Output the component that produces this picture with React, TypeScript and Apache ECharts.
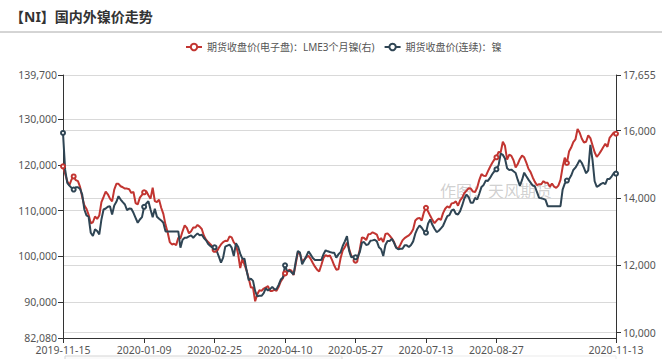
import React, { useEffect, useRef } from 'react';
import * as echarts from 'echarts';

const TITLE = '【NI】国内外镍价走势';
const LEGEND_LME = '期货收盘价(电子盘)：LME3个月镍(右)';
const LEGEND_SHFE = '期货收盘价(连续)：镍';
const WATERMARK = '作图：天风期货';

const FIRST_DATE = '2019-11-15';
const LAST_DATE = '2020-11-13';
const CLOSED_DATES = ['2020-01-01'];
const LABEL_DATES = [
  '2019-11-15', '2019-11-22', '2020-01-09', '2020-02-25', '2020-04-10',
  '2020-05-27', '2020-07-13', '2020-08-27', '2020-10-13', '2020-11-13',
];

const LEFT_MIN = 82080;
const LEFT_MAX = 139700;
const RIGHT_MIN = 9840;
const RIGHT_MAX = 17655;

const SHFE_NI = [
  127000, 118960, 116050, 115470, 114960, 114600, 115110, 115110, 114750, 113510,
  110240, 108930, 108640, 105140, 104420, 105870, 105510, 104780, 108050, 110240,
  110450, 110820, 110960, 109140, 111110, 111910, 113150, 112420, 111840, 111330,
  110090, 110450, 110380, 109510, 108420, 107330, 108050, 108560, 110820, 111550,
  112050, 110240, 108560, 110380, 108640, 108200, 107840, 107330, 105440, 105440,
  105440, 105440, 105440, 105440, 105440, 101870, 103620, 104050, 104050, 104340,
  104560, 104050, 104560, 105000, 104560, 104710, 103980, 103470, 102670, 102230,
  101870, 101940, 101140, 99910, 98600, 99690, 102090, 102310, 102520, 101870,
  100050, 102820, 102090, 100560, 99470, 99470, 96850, 94740, 95100, 94590,
  92340, 91200, 91320, 91320, 91900, 92990, 92480, 92780, 93280, 92780,
  92780, 93720, 94890, 95320, 98010, 96700, 96850, 96490, 95980, 98810,
  101140, 100780, 98230, 99100, 100050, 101070, 100340, 99610, 99180, 99180,
  99180, 99180, 100410, 101290, 101070, 100920, 100780, 100780, 99690, 100410,
  100850, 102230, 103250, 104420, 101220, 99760, 99910, 99760, 99830, 100920,
  102960, 103110, 102450, 102600, 103400, 103470, 103620, 103250, 101940, 101510,
  100050, 102450, 103320, 103320, 103800, 103000, 101870, 101510, 101650, 101650,
  102380, 102380, 102020, 102450, 103250, 104930, 106020, 106740, 106240, 105510,
  105140, 107180, 108050, 106890, 106020, 105290, 105580, 106090, 106670, 107760,
  108780, 109000, 110020, 110240, 109290, 109140, 109870, 111180, 112710, 113510,
  112930, 111690, 111690, 112780, 112420, 113730, 115180, 115620, 116570, 116490,
  117150, 117950, 118600, 119040, 119910, 122500, 122200, 121400, 119260, 118890,
  118970, 118600, 118240, 116710, 115400, 116710, 118310, 117510, 116780, 116130,
  115470, 115330, 114020, 112780, 112710, 112560, 112350, 110960, 110960, 110960,
  110960, 110960, 110960, 110960, 114600, 115910, 116570, 116860, 117660, 118890,
  119400, 120200, 121080, 120420, 119330, 118170, 118820, 124400, 121100, 116420,
  115180, 115470, 115840, 116060, 115770, 116930, 116930, 117510, 118240, 118090,
];

const LME_3M = [
  14940, 14720, 14500, 14380, 14550, 14640, 14530, 14500, 14330, 14030,
  13780, 13680, 13500, 13250, 13280, 13450, 13380, 13480, 13880, 14030,
  14190, 14110, 13980, 13900, 14250, 14420, 14420, 14350, 14320, 14280,
  14280, 14260, 14150, 14180, 13850, 13810, 14010, 14090, 14170, 14200,
  14080, 13980, 14310, 13910, 13880, 13950, 13710, 13530, 13210, 12980,
  12690, 12620, 12640, 12600, 12820, 12800, 13010, 13190, 13110, 12950,
  13010, 13120, 13120, 13200, 13150, 13080, 12880, 12760, 12690, 12630,
  12560, 12460, 12400, 12520, 12620, 12690, 12730, 12720, 12860, 12830,
  12680, 12610, 12340, 11920, 12190, 12020, 11840, 11610, 11340, 11340,
  10930, 11140, 11260, 11240, 11310, 11340, 11380, 11240, 11240, 11270,
  11240, 11360, 11520, 11620, 11760, 11790, 11870, 11840, 11710, 12040,
  12390, 12340, 12110, 12170, 12240, 12280, 12190, 12070, 11960, 11870,
  11820, 12010, 12220, 12300, 12270, 12290, 12160, 12000, 11870, 11880,
  12210, 12440, 12540, 12670, 12490, 12280, 12240, 12140, 12190, 12470,
  12830, 12810, 12750, 12920, 12930, 12980, 12950, 12910, 12740, 12810,
  12690, 12930, 12950, 12880, 12800, 12700, 12540, 12490, 12610, 12740,
  12810, 12850, 12890, 12960, 13070, 13330, 13390, 13410, 13330, 13570,
  13710, 13600, 13470, 13350, 13250, 13330, 13390, 13350, 13550, 13680,
  13750, 13710, 13840, 13850, 13900, 13770, 13930, 14010, 14150, 14220,
  14290, 14280, 14190, 14180, 14310, 14540, 14710, 14660, 14650, 14790,
  14920, 15040, 15140, 15210, 15370, 15360, 15670, 15550, 15140, 15290,
  15250, 15120, 14910, 15010, 15160, 15260, 15210, 15050, 14870, 14770,
  14610, 14480, 14380, 14410, 14410, 14500, 14450, 14450, 14330, 14430,
  14340, 14300, 14370, 14540, 14920, 15200, 15040, 15380, 15500, 15660,
  15740, 16050, 15940, 15760, 15650, 15670, 15860, 15780, 15570, 15360,
  15220, 15300, 15400, 15510, 15610, 15520, 15790, 15870, 15950, 15910,
];

function buildDates(): string[] {
  const out: string[] = [];
  const d = new Date(FIRST_DATE + 'T00:00:00Z');
  const end = new Date(LAST_DATE + 'T00:00:00Z');
  while (d.getTime() <= end.getTime()) {
    const wd = d.getUTCDay();
    const s = d.toISOString().slice(0, 10);
    if (wd !== 0 && wd !== 6 && !CLOSED_DATES.includes(s)) out.push(s);
    d.setUTCDate(d.getUTCDate() + 1);
  }
  return out;
}

const FONT = "'Noto Sans', 'Noto Sans CJK SC', sans-serif";
const RED = '#c23531';
const DARK = '#2f4554';

export default function App() {
  const ref = useRef<HTMLDivElement>(null);

  useEffect(() => {
    if (!ref.current) return;
    const chart = echarts.init(ref.current, undefined, { renderer: 'svg' });
    const dates = buildDates();
    const axisColor = '#333';
    const labelColor = '#555';
    const splitColor = '#d9d9d9';

    chart.setOption({
      animation: false,
      textStyle: { fontFamily: FONT },
      title: {
        text: TITLE,
        left: 5,
        top: 4,
        textStyle: { fontSize: 14, fontWeight: 'bold', color: '#333', fontFamily: FONT },
      },
      legend: {
        left: 180,
        top: 37,
        itemWidth: 16,
        itemHeight: 8,
        itemGap: 9,
        textStyle: { fontSize: 10, color: '#555', fontFamily: FONT },
        data: [LEGEND_LME, LEGEND_SHFE],
      },
      grid: {
        left: 63,
        right: 46,
        top: 75,
        bottom: 21,
        containLabel: false,
        outerBoundsMode: 'none',
      },
      xAxis: {
        type: 'category',
        data: dates,
        boundaryGap: false,
        axisLine: { show: true, lineStyle: { color: axisColor } },
        axisTick: { show: true, length: 5, lineStyle: { color: axisColor } },
        axisLabel: {
          color: labelColor,
          fontSize: 10.5,
          margin: 7,
          showMinLabel: true,
          showMaxLabel: true,
          interval: (_i: number, v: string) => LABEL_DATES.includes(v),
        },
        splitLine: { show: false },
      },
      yAxis: [
        {
          type: 'value',
          position: 'left',
          min: LEFT_MIN,
          max: LEFT_MAX,
          axisLine: { show: true, lineStyle: { color: axisColor } },
          axisTick: { show: true, length: 5, lineStyle: { color: axisColor } },
          axisLabel: { color: labelColor, fontSize: 10.5, margin: 6 },
          splitLine: { show: true, lineStyle: { color: splitColor } },
        },
        {
          type: 'value',
          position: 'right',
          min: RIGHT_MIN,
          max: RIGHT_MAX,
          axisLine: { show: true, lineStyle: { color: axisColor } },
          axisTick: { show: true, length: 5, lineStyle: { color: axisColor } },
          axisLabel: { color: labelColor, fontSize: 10.5, margin: 7, showMinLabel: false },
          splitLine: { show: true, lineStyle: { color: splitColor } },
        },
      ],
      graphic: [
        {
          type: 'line',
          shape: { x1: 0, y1: 32, x2: 662, y2: 32 },
          style: { stroke: '#aaa', lineWidth: 1 },
        },
        {
          type: 'text',
          x: 440,
          y: 191,
          z: 0,
          style: {
            text: WATERMARK,
            fontSize: 16,
            fontFamily: FONT,
            fill: 'rgba(150,150,150,0.45)',
            verticalAlign: 'middle',
          },
        },
        {
          type: 'rect',
          shape: { x: 65, y: 356, width: 277, height: 12 },
          style: { fill: 'rgba(220,220,220,0.15)', stroke: '#d5d5d5', lineWidth: 1 },
        },
        {
          type: 'rect',
          shape: { x: 342, y: 356, width: 274, height: 12 },
          style: { fill: 'none', stroke: '#ebebeb', lineWidth: 1 },
        },
      ],
      series: [
        {
          name: LEGEND_LME,
          type: 'line',
          yAxisIndex: 1,
          data: LME_3M,
          symbol: 'emptyCircle',
          symbolSize: 4,
          showSymbol: true,
          showAllSymbol: 'auto',
          lineStyle: { width: 2, color: RED },
          itemStyle: { color: RED },
        },
        {
          name: LEGEND_SHFE,
          type: 'line',
          yAxisIndex: 0,
          data: SHFE_NI,
          symbol: 'emptyCircle',
          symbolSize: 4,
          showSymbol: true,
          showAllSymbol: 'auto',
          lineStyle: { width: 2, color: DARK },
          itemStyle: { color: DARK },
        },
      ],
    });

    return () => chart.dispose();
  }, []);

  return (
    <div
      ref={ref}
      style={{ position: 'fixed', left: 0, top: 0, width: 662, height: 359, background: '#fff' }}
    />
  );
}
